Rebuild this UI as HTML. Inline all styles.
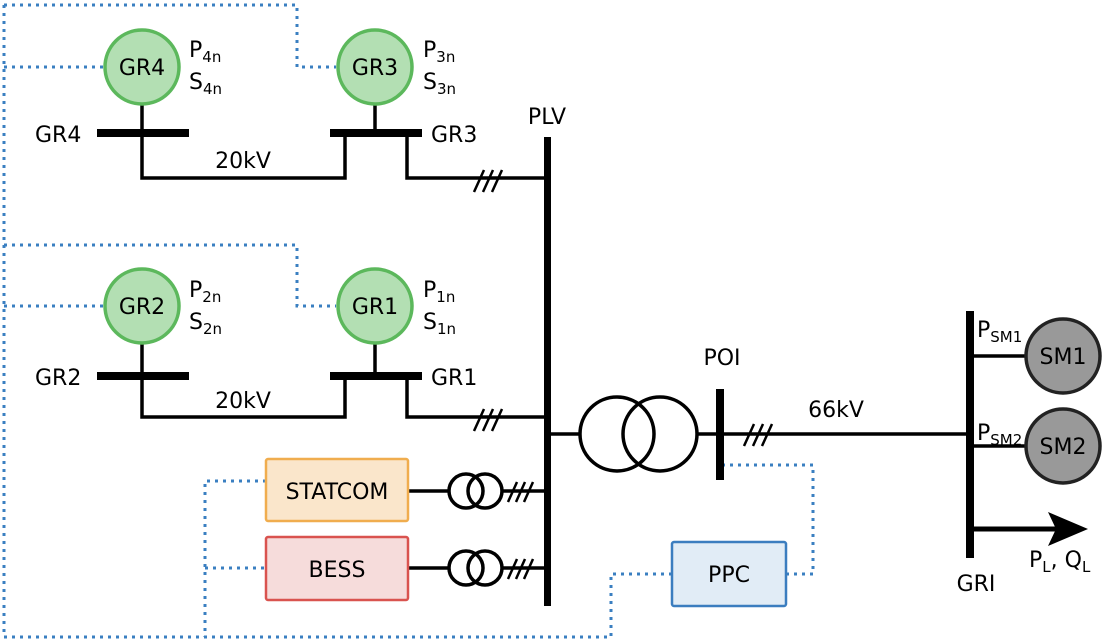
<!DOCTYPE html>
<html><head><style>body{margin:0;background:#fff}svg{display:block;font-family:"DejaVu Sans","Liberation Sans",sans-serif}</style></head>
<body>
<svg width="1103" height="639" viewBox="0 0 1103 639" xmlns="http://www.w3.org/2000/svg">
<g fill="none" stroke="#3a7fc1" stroke-width="3" stroke-dasharray="3,5">
<path d="M4,5H297V67H336"/><path d="M4,5V637H611V574H672"/><path d="M4,67H104"/>
<path d="M4,245H297V306H336"/><path d="M4,306H104"/>
<path d="M266,481H205V637"/><path d="M205,568H266"/>
<path d="M786,574H813V465H722"/>
</g>
<g stroke="#000" fill="none" stroke-width="3.5">
<path d="M142,104V133M142,133V178H345V133"/><path d="M375,104V133M407,133V178H547"/>
<path d="M142,343V376M142,376V417H345V376"/><path d="M375,343V376M407,376V417H547"/>
<path d="M547,434H580M697,434H970"/>
<path d="M408,491H449M502,491H547M408,568H449M502,568H547"/>
<path d="M970,356H1026M970,446H1026"/>
<circle cx="617" cy="434" r="37"/><circle cx="660" cy="434" r="37"/>
<circle cx="466" cy="491" r="17"/><circle cx="485" cy="491" r="17"/>
<circle cx="466" cy="568" r="17"/><circle cx="485" cy="568" r="17"/>
</g>
<g stroke="#000" fill="none" stroke-width="2.5">
<path d="M474,192l10,-22M483,192l10,-22M492,192l10,-22"/>
<path d="M474,431l10,-22M483,431l10,-22M492,431l10,-22"/>
<path d="M744,446l10,-22M753,446l10,-22M762,446l10,-22"/>
<path d="M508,502l9,-20M516,502l9,-20M524,502l9,-20"/>
<path d="M508,579l9,-20M516,579l9,-20M524,579l9,-20"/>
</g>
<g stroke="#000" stroke-width="5" fill="none"><path d="M970,529H1060"/></g>
<path d="M1048,512L1088,529L1048,546L1056,529Z" fill="#000"/>
<g fill="#000">
<rect x="97" y="129" width="92" height="8"/><rect x="330" y="129" width="92" height="8"/>
<rect x="97" y="372" width="92" height="8"/><rect x="330" y="372" width="92" height="8"/>
<rect x="544" y="137" width="7" height="469"/>
<rect x="716" y="389" width="8" height="91"/>
<rect x="966" y="311" width="8" height="247"/>
</g>
<g fill="#b3dfb3" stroke="#5cb85c" stroke-width="3.5">
<circle cx="142" cy="67" r="37"/><circle cx="375" cy="67" r="37"/>
<circle cx="142" cy="306" r="37"/><circle cx="375" cy="306" r="37"/>
</g>
<g fill="#999" stroke="#222" stroke-width="3.5">
<circle cx="1063" cy="356" r="37"/><circle cx="1063" cy="446" r="37"/>
</g>
<rect x="266" y="459" width="142" height="62" rx="2" fill="#fae6cb" stroke="#f0ad4e" stroke-width="2.5"/>
<rect x="266" y="537" width="142" height="63" rx="2" fill="#f6dcdb" stroke="#d9534f" stroke-width="2.5"/>
<rect x="672" y="542" width="114" height="64" rx="2" fill="#e1ecf6" stroke="#3b7dbf" stroke-width="2.5"/>
<g font-size="22" fill="#000">
<g text-anchor="middle">
<text x="142" y="75">GR4</text><text x="375" y="75">GR3</text>
<text x="142" y="314">GR2</text><text x="375" y="314">GR1</text>
<text x="1063" y="364">SM1</text><text x="1063" y="454">SM2</text>
<text x="337" y="499">STATCOM</text><text x="337" y="577">BESS</text><text x="729" y="582">PPC</text>
<text x="547" y="124">PLV</text><text x="722" y="365">POI</text><text x="836" y="417">66kV</text>
<text x="976" y="591">GRI</text>
<text x="243" y="168">20kV</text><text x="243" y="408">20kV</text>
</g>
<text x="35" y="142">GR4</text><text x="431" y="142">GR3</text>
<text x="35" y="385">GR2</text><text x="431" y="385">GR1</text>
<text x="189" y="57">P<tspan font-size="15" dy="5">4n</tspan></text>
<text x="189" y="89">S<tspan font-size="15" dy="5">4n</tspan></text>
<text x="423" y="57">P<tspan font-size="15" dy="5">3n</tspan></text>
<text x="423" y="89">S<tspan font-size="15" dy="5">3n</tspan></text>
<text x="189" y="297">P<tspan font-size="15" dy="5">2n</tspan></text>
<text x="189" y="329">S<tspan font-size="15" dy="5">2n</tspan></text>
<text x="423" y="297">P<tspan font-size="15" dy="5">1n</tspan></text>
<text x="423" y="329">S<tspan font-size="15" dy="5">1n</tspan></text>
<text x="977" y="337">P<tspan font-size="15" dy="5">SM1</tspan></text>
<text x="977" y="440">P<tspan font-size="15" dy="5">SM2</tspan></text>
<text x="1029" y="567">P<tspan font-size="15" dy="5">L</tspan><tspan dy="-5">, Q</tspan><tspan font-size="15" dy="5">L</tspan></text>
</g>
</svg>
</body></html>
